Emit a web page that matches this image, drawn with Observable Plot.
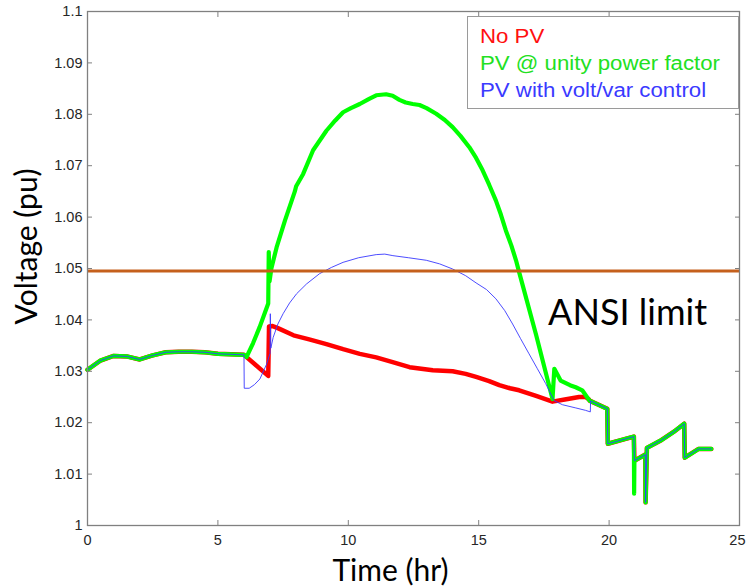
<!DOCTYPE html>
<html>
<head>
<meta charset="utf-8">
<script src="https://cdn.jsdelivr.net/npm/d3@7"></script>
<script src="https://cdn.jsdelivr.net/npm/@observablehq/plot@0.6"></script>
<style>
  html, body { margin: 0; padding: 0; background: #fff; }
  #wrap { position: relative; width: 746px; height: 588px; }
  #legend { position: absolute; left: 467px; top: 16px; width: 272px; height: 93px;
            box-sizing: border-box; border: 1px solid #9a9a9a; background: #fff; }
  .item { position: absolute; left: 12px; font-family: "Liberation Sans", Arial, sans-serif;
          font-size: 19.5px; line-height: 19.5px; white-space: nowrap;
          transform: scaleX(1.14); transform-origin: left center; }
</style>
</head>
<body>
<div id="wrap"><div id="legend"></div></div>
<script>
// ---- data ----
const xTicks = [0, 5, 10, 15, 20];
const xLastTick = [25];
const yTicks = [1, 1.01, 1.02, 1.03, 1.04, 1.05, 1.06, 1.07, 1.08, 1.09, 1.1];
const seriesNames = ["No PV", "PV @ unity power factor", "PV with volt/var control"];
const seriesColors = ["#ff0000", "#00ff00", "#3a3aff"];
const legendColors = ["#ff1010", "#22e022", "#3a3aff"];
const ansiLimit = 1.0495;
const annotation = [{label: "ANSI limit", t: 17.66, v: 1.0413}];
const xLabel = "Time (hr)";
const yLabel = "Voltage (pu)";

// shared morning section
const morningT = [0, 0.5, 1.0, 1.5, 2.0, 2.5, 3.0, 3.5, 4.0, 4.5, 5.0, 5.5, 6.0];
const morningV = [1.0303, 1.0321, 1.0330, 1.0329, 1.0323, 1.0331, 1.0337, 1.0338, 1.0338, 1.0337, 1.0334, 1.0333, 1.0332];

// shared evening section
const eveningT = [19.25, 19.93, 19.95, 20.95, 20.97, 21.39, 21.40, 21.45, 22.0, 22.5, 22.88, 22.9, 23.43, 23.92];
const eveningV = [1.0243, 1.0227, 1.0159, 1.0173, 1.0126, 1.0138, 1.0045, 1.0151, 1.0166, 1.0183, 1.0198, 1.0132, 1.0149, 1.0149];

// No PV
const noPvT = [6.93, 6.96, 7.1, 7.3, 7.9, 8.5, 9.16, 9.8, 10.44, 11.07, 11.7, 12.35, 13.24, 14.0, 14.5, 14.9, 15.4, 15.79, 16.2, 16.55, 17.2, 17.83, 18.3, 18.85, 19.1, 19.23];
const noPvV = [1.0291, 1.0387, 1.0388, 1.0384, 1.0370, 1.0362, 1.0353, 1.0343, 1.0334, 1.0327, 1.0318, 1.0308, 1.0302, 1.0300, 1.0295, 1.0289, 1.0281, 1.0273, 1.0267, 1.0263, 1.0252, 1.0241, 1.0245, 1.0250, 1.0250, 1.0245];

// PV @ unity power factor
const unityT = [6.1, 6.35, 6.6, 6.93, 6.95, 6.98, 7.05, 7.25, 7.57, 7.95, 8.0, 8.27, 8.65, 9.16, 9.5, 9.8, 10.1, 10.44, 10.8, 11.07, 11.45, 11.7, 11.96, 12.2, 12.47, 12.73, 13.0, 13.37, 13.7, 14.0, 14.3, 14.64, 14.9, 15.15, 15.4, 15.66, 15.85, 16.04, 16.25, 16.43, 16.55, 17.2, 17.83, 17.9, 18.14, 18.5, 18.72, 18.97, 19.15];
const unityV = [1.0328, 1.0355, 1.0386, 1.0432, 1.0532, 1.0475, 1.0500, 1.0541, 1.0593, 1.0650, 1.0660, 1.0684, 1.0730, 1.0768, 1.0788, 1.0804, 1.0812, 1.0820, 1.0830, 1.0837, 1.0839, 1.0836, 1.0828, 1.0823, 1.0820, 1.0818, 1.0812, 1.0801, 1.0789, 1.0775, 1.0758, 1.0736, 1.0715, 1.0691, 1.0663, 1.0632, 1.0605, 1.0574, 1.0545, 1.0516, 1.0493, 1.0371, 1.0246, 1.0305, 1.0282, 1.0273, 1.0269, 1.0263, 1.0250];
const unitySpikeT = [20.95, 20.96, 20.97];
const unitySpikeV = [1.0173, 1.0062, 1.0126];

// PV with volt/var control
const voltVarT = [6.01, 6.2, 6.4, 6.61, 6.87, 7.0, 7.01, 7.03, 7.12, 7.3, 7.5, 7.75, 8.02, 8.4, 8.9, 9.35, 9.8, 10.4, 11.07, 11.4, 11.71, 12.3, 12.99, 13.5, 14.0, 14.5, 14.9, 15.3, 15.66, 16.0, 16.3, 16.6, 16.93, 17.25, 17.57, 17.89, 18.21, 18.7, 19.1, 19.28, 19.29];
const voltVarV = [1.0267, 1.0267, 1.0274, 1.0285, 1.0314, 1.0335, 1.0412, 1.0345, 1.0366, 1.0392, 1.0412, 1.0433, 1.0451, 1.0470, 1.0490, 1.0502, 1.0512, 1.0521, 1.0527, 1.0528, 1.0525, 1.0521, 1.0516, 1.0509, 1.0499, 1.0486, 1.0472, 1.0459, 1.0441, 1.0418, 1.0392, 1.0364, 1.0334, 1.0305, 1.0276, 1.0243, 1.0235, 1.0229, 1.0224, 1.0221, 1.0241];

// ---- build tables ----
const pts = (t, v) => t.map((d, i) => ({t: d, v: v[i]}));
const noPv = [...pts(morningT, morningV), ...pts(noPvT, noPvV), ...pts(eveningT, eveningV)];
const unityEve = pts(eveningT, eveningV);
const spikeIdx = unityEve.findIndex(d => d.t === 20.97);
const unity = [...pts(morningT, morningV), ...pts(unityT, unityV),
               ...unityEve.slice(0, spikeIdx - 1), ...pts(unitySpikeT, unitySpikeV), ...unityEve.slice(spikeIdx + 1)];
const voltVar = [...pts(morningT, morningV), ...pts(voltVarT, voltVarV), ...pts(eveningT, eveningV)];

const axisGray = "#808080";
const textColor = "#262626";
const allXTicks = [...xTicks, ...xLastTick];

const chart = Plot.plot({
  width: 746, height: 588,
  marginLeft: 87, marginRight: 7, marginTop: 11, marginBottom: 63,
  x: {domain: [0, 25]},
  y: {domain: [1, 1.1]},
  style: {fontFamily: "'Liberation Sans', Arial, sans-serif", fontSize: "14.5px", color: textColor, background: "#fff"},
  marks: [
    Plot.line(noPv, {x: "t", y: "v", stroke: seriesColors[0], strokeWidth: 4.5, strokeLinejoin: "round"}),
    Plot.line(unity, {x: "t", y: "v", stroke: seriesColors[1], strokeWidth: 4.2, strokeLinejoin: "round"}),
    Plot.line(voltVar, {x: "t", y: "v", stroke: seriesColors[2], strokeWidth: 1, strokeOpacity: 0.9}),
    Plot.ruleY([ansiLimit], {stroke: "#c5601c", strokeWidth: 3}),
    Plot.frame({stroke: axisGray, strokeWidth: 1.3}),
    Plot.axisX({anchor: "bottom", ticks: xTicks, tickSize: -5, tickPadding: 14, stroke: axisGray, label: null, tickFormat: d => String(d)}),
    Plot.axisX({anchor: "bottom", ticks: xLastTick, tickSize: 0, tickPadding: 9, label: null, textAnchor: "end", dx: 6, tickFormat: d => String(d)}),
    Plot.axisX({anchor: "bottom", ticks: xLastTick, tickSize: -5, stroke: axisGray, label: null, tickFormat: () => ""}),
    Plot.axisX({anchor: "top", ticks: allXTicks, tickSize: -5, stroke: axisGray, label: null, tickFormat: () => ""}),
    Plot.axisY({anchor: "left", ticks: yTicks, tickSize: -5, tickPadding: 10, stroke: axisGray, label: null, tickFormat: d => String(d)}),
    Plot.axisY({anchor: "right", ticks: yTicks, tickSize: -5, stroke: axisGray, label: null, tickFormat: () => ""}),
    Plot.text(annotation, {x: "t", y: "v", text: "label", textAnchor: "start", fontSize: 36, fontFamily: "Lato", fill: "#000"}),
    Plot.text([xLabel], {frameAnchor: "bottom", textAnchor: "middle", lineAnchor: "middle", dy: 46, dx: -23, fontSize: 30, fontFamily: "Lato", fill: "#000"}),
    Plot.text([yLabel], {frameAnchor: "left", textAnchor: "middle", lineAnchor: "middle", dx: -60, dy: -22, rotate: -90, fontSize: 30, fontFamily: "Lato", fill: "#000"})
  ]
});
document.getElementById("wrap").prepend(chart);

// legend
const legend = document.getElementById("legend");
const tops = [10, 37, 64];
seriesNames.forEach((name, i) => {
  const el = document.createElement("div");
  el.className = "item";
  el.style.top = tops[i] + "px";
  el.style.color = legendColors[i];
  el.textContent = name;
  legend.appendChild(el);
});
</script>
</body>
</html>
